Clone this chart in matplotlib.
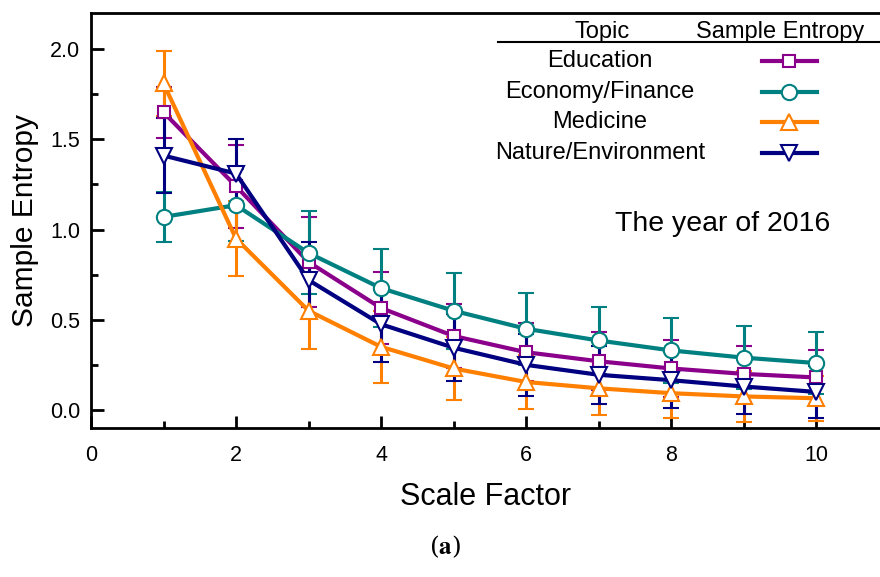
import matplotlib
matplotlib.use('Agg')
import matplotlib.pyplot as plt
from matplotlib.lines import Line2D

# данные
scale = [1, 2, 3, 4, 5, 6, 7, 8, 9, 10]
topics = ['Education', 'Economy/Finance', 'Medicine', 'Nature/Environment']

education = [1.65, 1.24, 0.82, 0.565, 0.41, 0.32, 0.27, 0.23, 0.20, 0.18]
education_err = [0.14, 0.23, 0.25, 0.20, 0.18, 0.16, 0.16, 0.16, 0.155, 0.15]

economy = [1.07, 1.135, 0.87, 0.675, 0.55, 0.45, 0.385, 0.33, 0.29, 0.26]
economy_err = [0.14, 0.20, 0.23, 0.215, 0.21, 0.20, 0.185, 0.18, 0.175, 0.17]

medicine = [1.81, 0.95, 0.55, 0.35, 0.23, 0.155, 0.12, 0.093, 0.075, 0.065]
medicine_err = [0.18, 0.21, 0.21, 0.20, 0.175, 0.15, 0.15, 0.14, 0.14, 0.125]

nature = [1.41, 1.31, 0.72, 0.475, 0.345, 0.25, 0.195, 0.165, 0.13, 0.10]
nature_err = [0.21, 0.19, 0.21, 0.21, 0.185, 0.17, 0.16, 0.155, 0.15, 0.145]

series = [education, economy, medicine, nature]
errors = [education_err, economy_err, medicine_err, nature_err]
colors = ['#8B008B', '#008080', '#FF8000', '#000080']
markers = ['s', 'o', '^', 'v']
msizes = [9, 11, 12, 12]

plt.rcParams['font.family'] = ['Liberation Sans', 'DejaVu Sans']
plt.rcParams['mathtext.fontset'] = 'stix'

fig = plt.figure(figsize=(8.8, 5.77), dpi=100)
ax = fig.add_axes([91 / 880, 149 / 577, 789 / 880, 415 / 577])

for vals, err, c, m, ms in zip(series, errors, colors, markers, msizes):
    ax.errorbar(scale, vals, yerr=err, color=c, lw=3, elinewidth=2.2,
                capsize=6, capthick=2.2, marker=m, ms=ms, mfc='white',
                mec=c, mew=1.5)

ax.set_xlim(0, 789 / 72.5)
ax.set_ylim(-0.1, 2.2)
ax.set_xticks([0, 2, 4, 6, 8, 10])
ax.set_xticks([1, 3, 5, 7, 9], minor=True)
ax.set_yticks([0.0, 0.5, 1.0, 1.5, 2.0])
ax.set_yticks([0.25, 0.75, 1.25, 1.75], minor=True)
ax.set_yticklabels(['0.0', '0.5', '1.0', '1.5', '2.0'])
ax.tick_params(which='both', direction='in', width=2, labelsize=15.5, pad=8)
ax.tick_params(which='major', length=9)
ax.tick_params(which='minor', length=5)
ax.tick_params(axis='x', pad=12)
for s in ['left', 'bottom', 'top']:
    ax.spines[s].set_linewidth(2)
ax.spines['right'].set_visible(False)

ax.set_xlabel('Scale Factor', fontsize=22, labelpad=12)
ax.set_ylabel('Sample Entropy', fontsize=21.5, labelpad=8)

ax.text(0.801, 0.492, 'The year of 2016', transform=ax.transAxes,
        fontsize=20.5, ha='center', va='center')

# легенда-таблица
ax.text(0.648, 0.954, 'Topic', transform=ax.transAxes, fontsize=17,
        ha='center', va='center')
ax.text(0.873, 0.954, 'Sample Entropy', transform=ax.transAxes, fontsize=17,
        ha='center', va='center')
ax.add_line(Line2D([0.516, 1.0], [0.929, 0.929], transform=ax.transAxes,
                   color='black', lw=1.5, clip_on=False))
rows_y = [0.884, 0.810, 0.737, 0.663]
for name, ry, c, m, ms in zip(topics, rows_y, colors, markers, msizes):
    ax.text(0.645, ry, name, transform=ax.transAxes, fontsize=17,
            ha='center', va='center')
    ax.add_line(Line2D([0.85, 0.92], [ry, ry], transform=ax.transAxes,
                       color=c, lw=3))
    ax.add_line(Line2D([0.885], [ry], transform=ax.transAxes, color=c,
                       marker=m, ms=ms, mfc='white', mec=c, mew=1.5))

fig.text(445 / 880, 1 - 547 / 577, '(' + r'$\mathbf{a}$' + ')',
         fontsize=18, family='DejaVu Serif', ha='center', va='center')

fig.savefig('out.png', dpi=100)
